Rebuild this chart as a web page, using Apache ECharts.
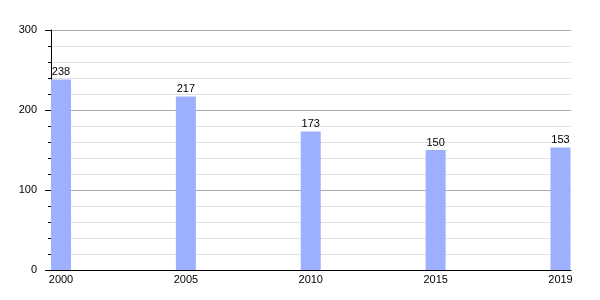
<!DOCTYPE html>
<html>
<head>
<meta charset="utf-8">
<script src="https://cdn.jsdelivr.net/npm/echarts@6/dist/echarts.min.js"></script>
<style>html,body{margin:0;padding:0;background:#fff;}#c{width:600px;height:300px;}</style>
</head>
<body>
<div id="c"></div>
<script>
const years = ['2000', '2005', '2010', '2015', '2019'];
const values = [238, 217, 173, 150, 153];
const yTicks = [0, 100, 200, 300];

const font = 'Liberation Sans, Arial, sans-serif';
const chart = echarts.init(document.getElementById('c'), null, {renderer: 'canvas'});
chart.setOption({
  animation: false,
  backgroundColor: '#ffffff',
  textStyle: {fontFamily: font},
  grid: [
    {left: 51, right: 29, top: 30, bottom: 30},
    {left: 61, right: 39.5, top: 30, bottom: 30}
  ],
  xAxis: [
    {gridIndex: 0, type: 'value', min: 0, max: 1,
     axisLine: {show: true, onZero: false, lineStyle: {color: '#000', width: 1}},
     axisTick: {show: false}, axisLabel: {show: false}, splitLine: {show: false}},
    {gridIndex: 1, type: 'category', data: years, boundaryGap: false,
     axisLine: {show: false}, axisTick: {show: false},
     axisLabel: {fontSize: 11, color: '#000', margin: 4, fontFamily: font}}
  ],
  yAxis: [
    {gridIndex: 0, type: 'value', min: yTicks[0], max: yTicks[yTicks.length - 1], interval: 100,
     axisLine: {show: true, lineStyle: {color: '#000', width: 1}},
     axisTick: {show: true, length: 6, lineStyle: {color: '#000'}},
     minorTick: {show: true, splitNumber: 5, length: 3, lineStyle: {color: '#000'}},
     splitLine: {show: true, lineStyle: {color: '#aaaaaa', width: 1}},
     minorSplitLine: {show: true, lineStyle: {color: '#e2e2e2', width: 1}},
     axisLabel: {fontSize: 11, color: '#000', margin: 14, fontFamily: font}},
    {gridIndex: 1, type: 'value', min: 0, max: 300, show: false}
  ],
  series: [{
    type: 'bar', xAxisIndex: 1, yAxisIndex: 1,
    data: values, barWidth: 20,
    itemStyle: {color: '#9db0fd'},
    label: {show: true, position: 'top', distance: 2, fontSize: 11, color: '#000', fontFamily: font}
  }]
});
</script>
</body>
</html>
